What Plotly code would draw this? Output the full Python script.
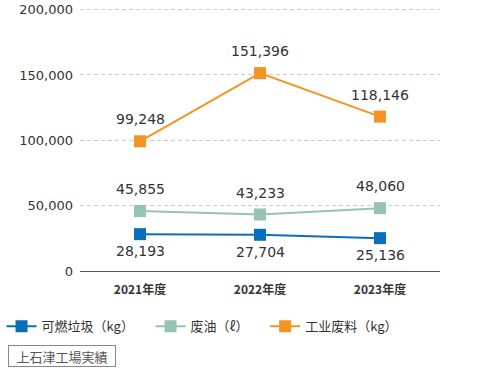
import plotly.graph_objects as go

categories = ["2021年度", "2022年度", "2023年度"]
burnable = [28193, 27704, 25136]
waste_oil = [45855, 43233, 48060]
industrial = [99248, 151396, 118146]
series_names = ["可燃垃圾（kg）", "废油（ℓ）", "工业废料（kg）"]
y_ticks = [0, 50000, 100000, 150000, 200000]
y_tick_labels = ["0", "50,000", "100,000", "150,000", "200,000"]
footnote = "上石津工場実績"

colors = ["#0a6fba", "#97c4b2", "#f49423"]
cjk = "Noto Sans CJK JP, Noto Sans, sans-serif"
num_font = "DejaVu Sans, sans-serif"

def fmt(v):
    return f"{v:,}"

fig = go.Figure()
series = [
    (series_names[0], burnable, colors[0], -17),
    (series_names[1], waste_oil, colors[1], 22),
    (series_names[2], industrial, colors[2], 22),
]
pad = "\u00a0" * 4
for name, vals, col, shift in series:
    fig.add_trace(go.Scatter(
        x=categories, y=vals, name=name + pad, mode="lines+markers",
        line=dict(color=col, width=2),
        marker=dict(symbol="square", size=12, color=col),
        cliponaxis=False,
    ))
    for c, v in zip(categories, vals):
        fig.add_annotation(
            x=c, y=v, text=fmt(v), showarrow=False, yshift=shift,
            xanchor="center", yanchor="middle",
            font=dict(size=14, color="#333333", family=num_font),
        )

fig.update_layout(
    width=490, height=370,
    margin=dict(l=80, r=50, t=7, b=99, autoexpand=False),
    plot_bgcolor="white", paper_bgcolor="white",
    font=dict(family=cjk, color="#333333"),
    xaxis=dict(
        type="category", range=[-0.5, 2.5],
        showgrid=False, showline=True, linecolor="#555555", linewidth=1,
        ticks="", tickfont=dict(size=12, color="#333333", family=cjk, weight="bold"),
        ticklabelstandoff=8,
    ),
    yaxis=dict(
        range=[0, 202000], tickvals=y_ticks, ticktext=y_tick_labels,
        showgrid=True, gridcolor="#cccccc", griddash="4px,3px", gridwidth=1,
        zeroline=False, showline=False, ticks="",
        tickfont=dict(size=13, color="#333333", family=num_font),
        ticklabelstandoff=6,
    ),
    legend=dict(
        orientation="h", x=-0.218, xanchor="left", y=-0.209, yanchor="middle",
        font=dict(size=13, color="#333333", family=cjk),
        itemwidth=30, tracegroupgap=0,
    ),
    showlegend=True,
)

fig.add_annotation(
    text=footnote, xref="paper", yref="paper",
    x=-0.2, y=-0.322, xanchor="left", yanchor="middle", showarrow=False,
    font=dict(size=13, color="#555555", family=cjk),
    width=102, height=16, align="center",
    bordercolor="#888888", borderwidth=1, borderpad=2, bgcolor="white",
)

fig.write_html(
    "out.html",
    config={"displayModeBar": False},
    post_script="document.body.style.margin='0';document.body.style.padding='0';",
)
